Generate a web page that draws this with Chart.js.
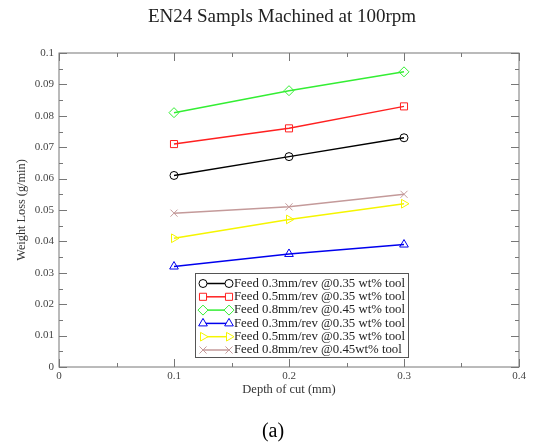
<!DOCTYPE html>
<html lang="en">
  <head>
    <meta charset="UTF-8" />
    <title>EN24 Samples</title>
    <script src="https://cdn.jsdelivr.net/npm/chart.js"></script>
    <style>
      body {
        margin: 0;
        background: #fff;
      }
      #wrap {
        width: 533px;
        height: 446px;
      }
    </style>
  </head>
  <body>
    <div id="wrap"><canvas id="wearChart"></canvas></div>

    <script>
      const depths = [0.1, 0.2, 0.3];
      const seriesLabels = [
        "Feed 0.3mm/rev @0.35 wt% tool",
        "Feed 0.5mm/rev @0.35 wt% tool",
        "Feed 0.8mm/rev @0.45 wt% tool",
        "Feed 0.3mm/rev @0.35 wt% tool",
        "Feed 0.5mm/rev @0.35 wt% tool",
        "Feed 0.8mm/rev @0.45wt% tool",
      ];
      const blackLoss = [0.061, 0.067, 0.073];
      const redLoss = [0.071, 0.076, 0.083];
      const greenLoss = [0.081, 0.088, 0.094];
      const blueLoss = [0.032, 0.036, 0.039];
      const yellowLoss = [0.041, 0.047, 0.052];
      const brownLoss = [0.049, 0.051, 0.055];
      const xTicks = [0, 0.1, 0.2, 0.3, 0.4];
      const yTicks = [0, 0.01, 0.02, 0.03, 0.04, 0.05, 0.06, 0.07, 0.08, 0.09, 0.1];

      const serif = "'Liberation Serif', 'DejaVu Serif', serif";
      const frameColor = "#777";

      function makeSet(i, values, color, style, radius, rot) {
        return {
          label: seriesLabels[i],
          data: depths.map((d, k) => ({ x: d, y: values[k] })),
          borderColor: color,
          backgroundColor: "rgba(0,0,0,0)",
          borderWidth: 1.5,
          pointStyle: style,
          rotation: rot || 0,
          pointRadius: radius,
          pointBorderWidth: 1,
          pointBorderColor: color,
          pointBackgroundColor: "rgba(0,0,0,0)",
        };
      }

      const datasets = [
        makeSet(0, blackLoss, "#000000", "circle", 4),
        makeSet(1, redLoss, "#ff2020", "rect", 5),
        makeSet(2, greenLoss, "#33ee33", "rectRot", 5),
        makeSet(3, blueLoss, "#0000ee", "triangle", 5),
        makeSet(4, yellowLoss, "#f5f500", "triangle", 5, 90),
        makeSet(5, brownLoss, "#c49a9a", "crossRot", 5),
      ];

      // inward ticks on all four sides, a frame, title, legend box and "(a)"
      const framePlugin = {
        id: "frame",
        afterDraw(chart) {
          const ctx = chart.ctx;
          const a = chart.chartArea;
          const xs = chart.scales.x;
          const ys = chart.scales.y;
          ctx.save();
          ctx.strokeStyle = frameColor;
          ctx.lineWidth = 1;
          ctx.strokeRect(a.left, a.top, a.right - a.left, a.bottom - a.top);
          for (let v = 0; v <= 0.4001; v += 0.05) {
            const px = Math.round(xs.getPixelForValue(v)) + 0.5;
            const major = Math.abs(v * 10 - Math.round(v * 10)) < 1e-6;
            const len = major ? 8 : 4;
            ctx.beginPath();
            ctx.moveTo(px, a.bottom);
            ctx.lineTo(px, a.bottom - len);
            ctx.moveTo(px, a.top);
            ctx.lineTo(px, a.top + len);
            ctx.stroke();
          }
          for (let v = 0; v <= 0.1001; v += 0.005) {
            const py = Math.round(ys.getPixelForValue(v)) + 0.5;
            const major = Math.abs(v * 100 - Math.round(v * 100)) < 1e-6;
            const len = major ? 8 : 4;
            ctx.beginPath();
            ctx.moveTo(a.left, py);
            ctx.lineTo(a.left + len, py);
            ctx.moveTo(a.right, py);
            ctx.lineTo(a.right - len, py);
            ctx.stroke();
          }

          // legend
          const lx = a.left + 136;
          const ly = a.top + 220;
          const lw = 213;
          const lh = 84;
          ctx.fillStyle = "#fff";
          ctx.fillRect(lx, ly, lw, lh);
          ctx.strokeStyle = "#555";
          ctx.strokeRect(lx + 0.5, ly + 0.5, lw, lh);
          ctx.textBaseline = "middle";
          chart.data.datasets.forEach((ds, i) => {
            const y = ly + 10.5 + i * 13.3;
            const x0 = lx + 8;
            const x1 = lx + 34;
            ctx.strokeStyle = ds.borderColor;
            ctx.lineWidth = 1.5;
            ctx.beginPath();
            ctx.moveTo(x0, y);
            ctx.lineTo(x1, y);
            ctx.stroke();
            ctx.lineWidth = 1;
            [x0, x1].forEach((mx) => {
              ctx.fillStyle = "#fff";
              ctx.strokeStyle = ds.borderColor;
              Chart.helpers.drawPoint(
                ctx,
                {
                  pointStyle: ds.pointStyle,
                  rotation: ds.rotation,
                  radius: ds.pointRadius,
                  borderWidth: 1,
                },
                mx,
                y
              );
            });
            ctx.fillStyle = "#222";
            ctx.font = "12.8px " + serif;
            ctx.textAlign = "left";
            ctx.fillText(ds.label, lx + 39, y);
          });

          ctx.fillStyle = "#222";
          ctx.textAlign = "center";
          ctx.font = "19px " + serif;
          ctx.fillText("EN24 Sampls Machined at 100rpm", 282, 17);
          ctx.fillStyle = "#000";
          ctx.font = "20px " + serif;
          ctx.fillText("(a)", 273, 432);
          ctx.restore();
        },
      };

      new Chart(document.getElementById("wearChart"), {
        type: "line",
        data: { datasets },
        options: {
          responsive: true,
          maintainAspectRatio: false,
          animation: false,
          layout: { padding: { left: 14, right: 14, top: 53, bottom: 49 } },
          plugins: {
            legend: { display: false },
            tooltip: { enabled: false },
            title: { display: false },
          },
          scales: {
            x: {
              type: "linear",
              min: 0,
              max: 0.4,
              afterBuildTicks: (s) => {
                s.ticks = xTicks.map((v) => ({ value: v }));
              },
              afterFit: (s) => {
                s.height = 30;
              },
              grid: { display: false, drawTicks: false },
              border: { display: false },
              ticks: {
                padding: 3,
                color: "#444",
                font: { family: serif, size: 11 },
                maxRotation: 0,
                callback: (v) => String(v),
              },
              title: {
                display: true,
                text: "Depth of cut (mm)",
                color: "#333",
                font: { family: serif, size: 12.5 },
                padding: { top: 1, bottom: 0 },
              },
            },
            y: {
              type: "linear",
              min: 0,
              max: 0.1,
              afterBuildTicks: (s) => {
                s.ticks = yTicks.map((v) => ({ value: v }));
              },
              afterFit: (s) => {
                s.width = 45;
              },
              grid: { display: false, drawTicks: false },
              border: { display: false },
              ticks: {
                padding: 5,
                color: "#444",
                font: { family: serif, size: 11 },
                callback: (v) => String(Math.round(v * 100) / 100),
              },
              title: {
                display: true,
                text: "Weight Loss (g/min)",
                color: "#333",
                font: { family: serif, size: 12.3 },
                padding: { top: 0, bottom: 2 },
              },
            },
          },
        },
        plugins: [framePlugin],
      });
    </script>
  </body>
</html>
